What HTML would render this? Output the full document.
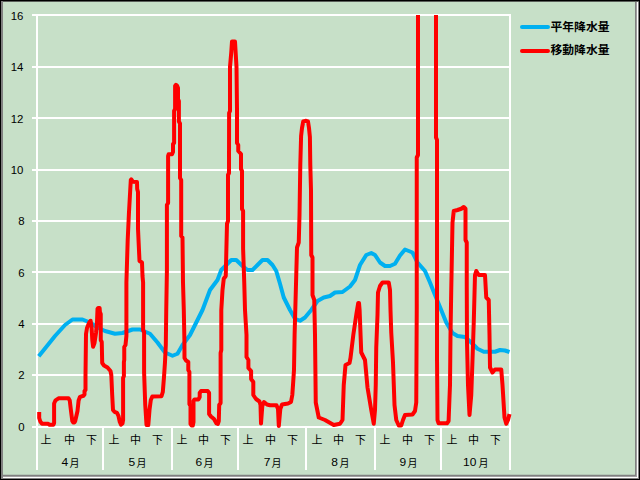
<!DOCTYPE html><html><head><meta charset="utf-8"><title>chart</title><style>html,body{margin:0;padding:0;background:#C7E0C8;overflow:hidden}svg{display:block}</style></head><body><svg width="640" height="480" viewBox="0 0 640 480">
<rect width="640" height="480" fill="#C7E0C8"/>
<defs><clipPath id="cp"><rect x="30" y="15" width="500" height="420"/></clipPath></defs>
<g fill="#fff" shape-rendering="crispEdges">
<rect x="32" y="426" width="479" height="2"/>
<rect x="32" y="374" width="479" height="2"/>
<rect x="32" y="323" width="479" height="2"/>
<rect x="32" y="271" width="479" height="2"/>
<rect x="32" y="220" width="479" height="2"/>
<rect x="32" y="169" width="479" height="2"/>
<rect x="32" y="117" width="479" height="2"/>
<rect x="32" y="66" width="479" height="2"/>
<rect x="32" y="14" width="479" height="2"/>
<rect x="36" y="14" width="2" height="456"/>
<rect x="509" y="14" width="2" height="456"/>
<rect x="102" y="427" width="2" height="43"/>
<rect x="171" y="427" width="2" height="43"/>
<rect x="237" y="427" width="2" height="43"/>
<rect x="305" y="427" width="2" height="43"/>
<rect x="374" y="427" width="2" height="43"/>
<rect x="440" y="427" width="2" height="43"/>
</g>
<g clip-path="url(#cp)" fill="none" stroke-width="4" stroke-linejoin="round">
<polyline points="38.75,356.25 55,336 65,325 72.5,319.5 82.5,319.5 90,322.5 97.5,327.5 105,331 115,333.75 122.5,333 132.5,329.5 140,329.5 150,333.75 157.5,342.5 165,352.5 172.5,355.75 177.5,353.75 182.5,345 190,335 202.5,310 210,290 217.5,280 221.25,270 231.25,260 236.25,260 242.5,266 247.5,270 252.5,270 257.5,265 262.5,260 267.5,260 272.5,265 276.25,271 280,283.75 283.75,297.5 290,310 295,318.75 300,320.75 305,317.5 311.25,310 317.5,301 323.75,297.5 330,296 335,292.5 342.5,292 350,286.5 355,280 360,265 366.25,255 371.25,253 375,255 380,262.5 385,266 390,266 395,263.75 400,255.5 405,249.5 408.75,251 412.5,252.5 417.5,262.5 425,271 430,282.5 435,295 441,309.5 446.25,322.5 452.5,333 457.5,336 465,337 471.25,342.5 477.5,348.75 483.75,351.75 495,351.75 500,350 505,350.5 509.5,352" stroke="#00B0F0"/>
<polyline points="39.2,412 39.2,418 40.3,421.5 42,423.7 48,423.8 49.5,424.7 53.5,424.7 54.1,423 54.1,403.5 55.5,400.3 58.5,398.3 68.5,398.3 69.75,400.5 71,411 72.3,421 73.2,422.4 74.5,422.4 75.2,421 77.5,411 78.6,400.5 80,396.8 83.5,395.75 84.5,394.5 84.5,391 85.5,390 85.5,375 86,334 87,328 89,323 90.6,320.75 91.5,326 92.3,340 93.1,346.75 94.5,343 96,333 97,322 97.5,309 98.2,308 99.6,308 99.9,312 100.75,314 100.75,340 101.75,342 102.2,363 104,365.5 107.5,367.5 110.5,371 111.3,375 112.2,395 113,410 114.5,411.8 117,412.8 118.5,416 119.8,422 121,424.6 122.5,423.5 123.1,420 123.1,378 123.9,376 123.9,362 124.25,360 124.25,347 125.5,345 126.4,336 126.4,310 126.4,282.5 127.7,240 128.9,214 129.9,196 130.8,180 131.3,179.3 133,181.8 137,182 137.2,189 138,192 138,228.75 139.5,261 142,262.5 142.5,276 143.1,282.5 143.1,330 144.1,332 144.1,372.5 145.25,405 146.5,425 148.3,425 149.5,410 150.8,400 152.3,396.5 161.5,396.2 162.8,392 164,377 165,362 165.8,345 166.25,310 166.9,271 166.9,205 168.1,203 168.1,156 168.6,154.3 172,154.3 173,152 173,144 174.1,143 174.1,111 175.1,109 175.1,86 176,84.75 177,85.5 178,88 178,99 178.9,101 178.9,121.5 180,123.5 180,178 181.2,180 181.2,236 182.5,237.5 183,282.5 183.8,310 184.4,340 184.5,358 186,360.5 188.3,362 188.3,370 189.4,372 189.4,404 190.5,406 190.5,424 191.5,425.5 192.8,425.5 193.5,422 193.5,401 194.5,399.4 198.5,399.4 199.7,397 199.7,393 201,391.1 207.8,391.1 209.1,393 209.1,414 211,416.5 214,419 216.5,423.5 217.8,424 218.8,421 219.2,405 220.6,403 220.6,353 221.3,350 221.3,310 222.5,290 223.75,278.75 225.75,276 227,223.75 228,221 228,175 229,173 229.1,113 230,111 230,67 231.3,52 232,41.5 235,41.5 235.8,55 236.5,67 237,110 237,143 238.25,145 238.25,151 241,154 241,169 242,171 242,209 243.1,211 243.1,248.75 244.25,282.5 245,310 246.5,335 246.5,357 248.4,360 248.4,368 251.1,371 251.1,379 253.3,382 253.3,395 256,399 259.5,401.5 260.5,405 261,423.5 262.3,406 264,402 267,404.5 270,405.3 276.5,405.3 278,409 278.8,426 280.3,409 282,404.5 288,403.5 291,402 292.3,395 293,385 294,370 294.6,335 296.25,275 297,247.5 298.75,242.5 299.5,215 300.3,165 301.1,136 302,128 303.25,121.5 305.5,120.8 308,121.5 309,128 309.9,137 310.3,165 311,190 311.25,255 312.5,257.5 312.5,295 314.25,300 315,335 315.75,402.5 318.75,417.5 325,420 333.75,425 340,423.75 342.5,420 343.75,385 345.5,365 349.5,363 350.5,358 353.3,335 356.4,314 358.2,303 359,303 359.6,310 361.25,352.5 365,360 367.5,387.5 371.25,410 373.75,423.75 375,410 375.75,385 376.25,347.5 377.5,315 378,292.5 380,286 382.5,282.5 388.75,282.5 390,290 390.5,310 391.25,332.5 393,362.5 394.5,405 396.25,420 398.75,425.5 401.25,425.5 403,420 405,415 412.5,414.5 415,411 416.25,402.5 416.75,310 416.75,157.5 418,155 418,-20 436,-20 436,137.5 437,140 437,357.5 437.5,420 438.6,423.3 447,423.3 448.6,421 449.4,400 450,385 450.5,335 451.25,290 452.5,222.5 453.75,211 457.5,210 461.25,208.75 463.75,207 465.5,208.75 465.5,240 466.75,242.5 466.75,285 467,342.5 468,385 469.5,415 471.25,395 472.5,360 473.75,322.5 475,275 476.25,271 478.75,275 485,275 486.25,297.5 488.75,300 489.5,335 490,367.5 492.5,372.5 495,369.5 501.25,369.5 502.5,385 504.5,417.5 506.25,423.75 508,420 509.5,414" stroke="#FF0000"/>
</g>
<g font-family="Liberation Sans, sans-serif" font-size="11.4" text-anchor="end" fill="#000">
<text x="24.6" y="431">0</text>
<text x="24.6" y="379">2</text>
<text x="24.6" y="328">4</text>
<text x="24.6" y="277">6</text>
<text x="24.6" y="225">8</text>
<text x="23.3" y="174">10</text>
<text x="23.3" y="123">12</text>
<text x="23.3" y="71">14</text>
<text x="23.3" y="20">16</text>
</g>
<text transform="translate(61.4 466) scale(1.2 1)" font-family="Liberation Sans, sans-serif" font-size="10" fill="#000">4</text>
<text transform="translate(128.4 466) scale(1.2 1)" font-family="Liberation Sans, sans-serif" font-size="10" fill="#000">5</text>
<text transform="translate(195.6 466) scale(1.2 1)" font-family="Liberation Sans, sans-serif" font-size="10" fill="#000">6</text>
<text transform="translate(263.8 466) scale(1.2 1)" font-family="Liberation Sans, sans-serif" font-size="10" fill="#000">7</text>
<text transform="translate(331.2 466) scale(1.2 1)" font-family="Liberation Sans, sans-serif" font-size="10" fill="#000">8</text>
<text transform="translate(399.6 466) scale(1.2 1)" font-family="Liberation Sans, sans-serif" font-size="10" fill="#000">9</text>
<text transform="translate(463 466) scale(1.2 1)" font-family="Liberation Sans, sans-serif" font-size="10" fill="#000">10</text>
<g font-family="Liberation Sans, Noto Sans CJK JP, sans-serif" font-size="11" text-anchor="middle" fill="#000">
<text x="46" y="444">上</text><text x="69.5" y="444">中</text><text x="91.5" y="444">下</text>
<text x="114" y="444">上</text><text x="135.5" y="444">中</text><text x="157.5" y="444">下</text>
<text x="182" y="444">上</text><text x="203.5" y="444">中</text><text x="225.5" y="444">下</text>
<text x="248" y="444">上</text><text x="270.5" y="444">中</text><text x="292.5" y="444">下</text>
<text x="317" y="444">上</text><text x="338.5" y="444">中</text><text x="360.5" y="444">下</text>
<text x="385" y="444">上</text><text x="407.5" y="444">中</text><text x="429.5" y="444">下</text>
<text x="452" y="444">上</text><text x="473.5" y="444">中</text><text x="495.5" y="444">下</text>
<text x="74.5" y="467" font-size="10">月</text>
<text x="141.5" y="467" font-size="10">月</text>
<text x="208.5" y="467" font-size="10">月</text>
<text x="276.5" y="467" font-size="10">月</text>
<text x="344.5" y="467" font-size="10">月</text>
<text x="412.5" y="467" font-size="10">月</text>
<text x="483.5" y="467" font-size="10">月</text>
</g>
<g fill="none" stroke-width="4" stroke-linecap="round"><path d="M522 27H548" stroke="#00B0F0"/><path d="M522 51H548" stroke="#FF0000"/></g>
<g fill="#000" font-family="Liberation Sans, Noto Sans CJK JP, sans-serif" font-size="11.8" font-weight="bold">
<text x="550.5" y="30.5">平年降水量</text>
<text x="550.5" y="53.9">移動降水量</text>
</g>
<g shape-rendering="crispEdges">
<rect x="3" y="474" width="632" height="1" fill="#B5C8B7"/>
<rect x="3" y="475" width="633" height="1" fill="#808080"/>
<rect x="3" y="476" width="634" height="1" fill="#A0A0A0"/>
<rect x="635" y="2" width="1" height="474" fill="#808080"/>
<rect x="636" y="2" width="1" height="475" fill="#A0A0A0"/>
<rect x="2" y="477" width="636" height="1" fill="#fff"/>
<rect x="637" y="2" width="1" height="476" fill="#fff"/>
<rect x="1" y="478" width="638" height="1" fill="#808080"/>
<rect x="638" y="1" width="1" height="478" fill="#808080"/>
<rect x="0" y="1" width="640" height="1" fill="#5A5F5A"/>
<rect x="1" y="1" width="2" height="477" fill="#808080"/>
<rect x="0" y="0" width="640" height="1" fill="#000"/>
<rect x="0" y="0" width="1" height="480" fill="#000"/>
<rect x="0" y="479" width="640" height="1" fill="#000"/>
<rect x="639" y="0" width="1" height="480" fill="#000"/>
</g>
</svg></body></html>
